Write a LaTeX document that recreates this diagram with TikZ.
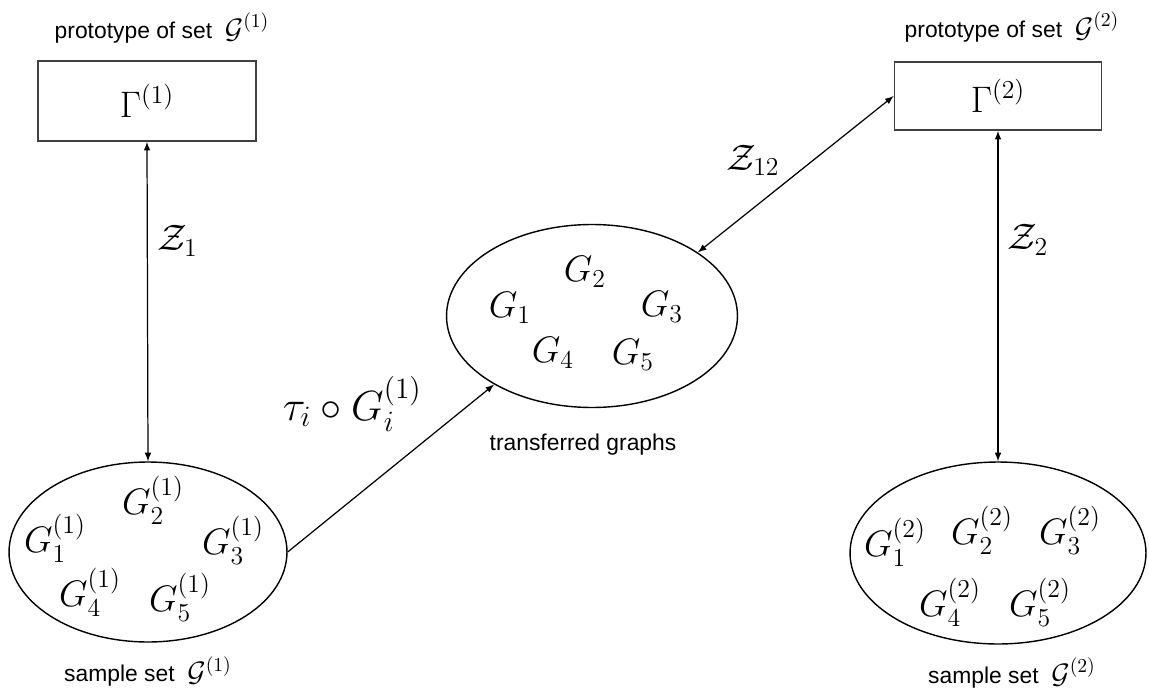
\RequirePackage{fix-cm}
\documentclass[tikz,border=0pt]{standalone}
\usepackage{amsmath,amssymb}
\usepackage{fontspec}
\setsansfont{Liberation Sans}
\usepackage{tikz}
\usetikzlibrary{shapes,arrows,positioning}

\begin{document}
\begin{tikzpicture}[x=0.02cm, y=-0.02cm, >=latex, font=\fontsize{21}{25}\selectfont,
  proto/.style={draw=black!75, line width=1pt, inner sep=0pt},
  gset/.style={draw, ellipse, line width=0.8pt, inner sep=0pt},
  lbl/.style={font=\sffamily\fontsize{13}{15}\selectfont},
  link/.style={<->, line width=0.7pt}]
\useasboundingbox (0,0) rectangle (1149,693);
% prototypes
\node[proto, minimum width=4.36cm, minimum height=1.6cm] (p1) at (147,101) {$\Gamma^{(1)}$};
\node[proto, minimum width=4.14cm, minimum height=1.36cm] (p2) at (998,96) {$\Gamma^{(2)}$};
\node[lbl] (lp1) at (162,28) {prototype of set \ {\fontsize{16}{18}\selectfont$\mathcal{G}^{(1)}$}};
\node[lbl] (lp2) at (1012,27) {prototype of set \ {\fontsize{16}{18}\selectfont$\mathcal{G}^{(2)}$}};
% sample sets
\node[gset, minimum width=5.56cm, minimum height=3.6cm] (s1) at (148,552) {};
\node[gset, minimum width=5.92cm, minimum height=3.64cm] (s2) at (998,553) {};
\node[gset, minimum width=5.82cm, minimum height=3.66cm] (t) at (592,316) {};
\node[lbl, below=0.15cm of s1] (ls1) {sample set \ {\fontsize{16}{18}\selectfont$\mathcal{G}^{(1)}$}};
\node[lbl] (ls2) at (1012,673) {sample set \ {\fontsize{16}{18}\selectfont$\mathcal{G}^{(2)}$}};
\node[lbl] (lt) at (583,445) {transferred graphs};
% graphs
\node (g11) at (55,538)  {$G_1^{(1)}$};
\node (g12) at (153,500) {$G_2^{(1)}$};
\node (g13) at (233,540) {$G_3^{(1)}$};
\node (g14) at (90,592)  {$G_4^{(1)}$};
\node (g15) at (180,597) {$G_5^{(1)}$};
\node (t1) at (510,308) {$G_1$};
\node (t2) at (585,272) {$G_2$};
\node (t3) at (662,307) {$G_3$};
\node (t4) at (553,353) {$G_4$};
\node (t5) at (633,355) {$G_5$};
\node (g21) at (895,542)  {$G_1^{(2)}$};
\node (g22) at (982,530)  {$G_2^{(2)}$};
\node (g23) at (1070,530) {$G_3^{(2)}$};
\node (g24) at (950,602)  {$G_4^{(2)}$};
\node (g25) at (1040,602) {$G_5^{(2)}$};
% links
\draw[link] (p1.south) -- node[pos=0.31, right=2pt] {$\mathcal{Z}_1$} (s1.north);
\draw[link] (p2.south) -- node[pos=0.33, right=2pt] {$\mathcal{Z}_2$} (s2.north);
\draw[link] (t.31) -- node[pos=0.45, above left] {$\mathcal{Z}_{12}$} (p2.west);
\draw[->, line width=0.7pt] (s1.east) -- node[pos=0.68, above left, font=\fontsize{24}{28}\selectfont] {$\tau_i\circ G_i^{(1)}$} (t.215);
\end{tikzpicture}
\end{document}
